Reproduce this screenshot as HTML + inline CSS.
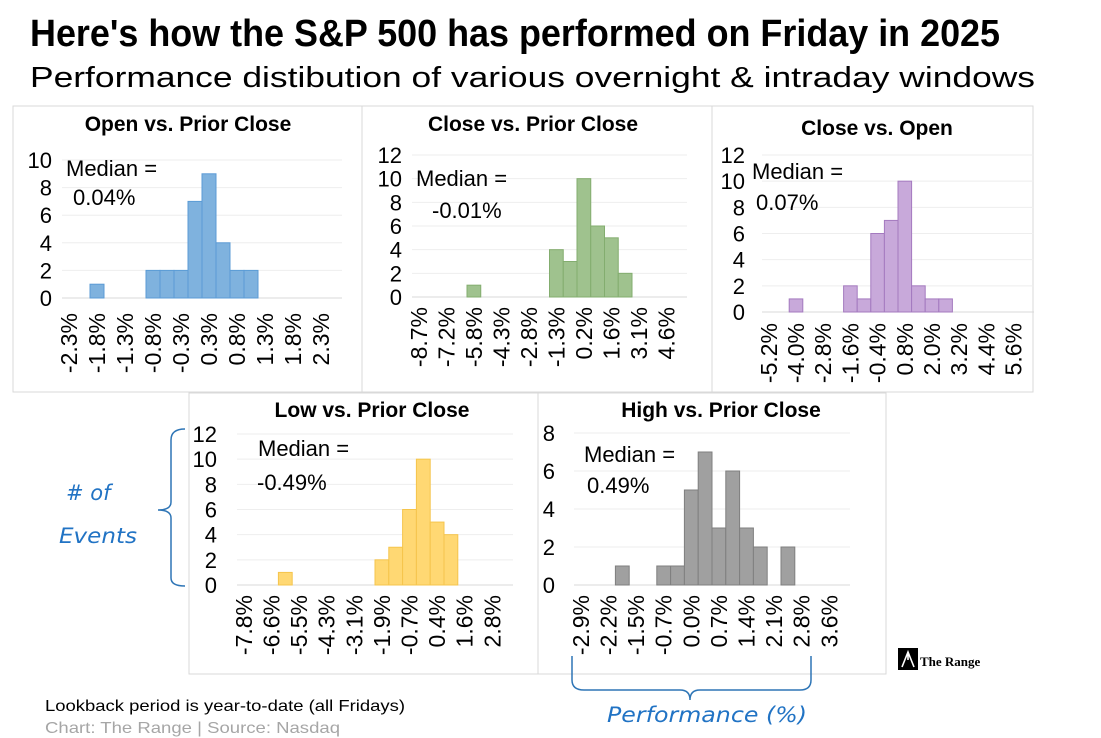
<!DOCTYPE html>
<html><head><meta charset="utf-8"><style>
body{margin:0;background:#fff;width:1101px;height:738px;overflow:hidden;font-family:"Liberation Sans",sans-serif}
svg{display:block}
</style></head><body>
<svg id="s" width="1101" height="738" viewBox="0 0 1101 738">
<text x="30" y="46" font-family="Liberation Sans Narrow, Liberation Sans, sans-serif" font-weight="bold" font-size="38" textLength="970" lengthAdjust="spacingAndGlyphs">Here's how the S&amp;P 500 has performed on Friday in 2025</text>
<text x="30" y="87" font-size="29" textLength="1005" lengthAdjust="spacingAndGlyphs">Performance distibution of various overnight &amp; intraday windows</text>
<g id="panels"></g>
<g>
<text x="66" y="500" fill="#2173c4" font-family="DejaVu Sans, sans-serif" font-style="italic" font-size="21"># of</text>
<text x="59" y="543" fill="#2173c4" font-family="DejaVu Sans, sans-serif" font-style="italic" font-size="21" textLength="78" lengthAdjust="spacingAndGlyphs">Events</text>
<path d="M185,429 Q171,429 171,440 L171,502 Q171,510 158,510 Q171,510 171,518 L171,578 Q171,586 185,586" fill="none" stroke="#2e75b6" stroke-width="1.5"/>
</g>
<g>
<path d="M572,656 L572,680 Q572,690 584,690 L680,690 Q690,690 690,700 Q690,690 700,690 L800,690 Q811,690 811,680 L811,656" fill="none" stroke="#2e75b6" stroke-width="1.5"/>
<text x="607" y="722" fill="#2173c4" font-family="DejaVu Sans, sans-serif" font-style="italic" font-size="21" textLength="200" lengthAdjust="spacingAndGlyphs">Performance (%)</text>
</g>
<g>
<rect x="898" y="648" width="20" height="22" fill="#000"/>
<path d="M902,667 L908,652 L914,667 M908,652 L908,660" stroke="#fff" stroke-width="1.6" fill="none"/>
<text x="920" y="666" font-family="Liberation Serif, serif" font-weight="bold" font-size="13">The Range</text>
</g>
<text x="45" y="711" font-size="16" textLength="360" lengthAdjust="spacingAndGlyphs">Lookback period is year-to-date (all Fridays)</text>
<text x="45" y="733" font-size="16" fill="#a6a6a6" textLength="295" lengthAdjust="spacingAndGlyphs">Chart: The Range | Source: Nasdaq</text>
</svg>
<script>
const openPriorCounts=[0,0,1,0,0,0,2,2,2,7,9,4,2,2,0,0,0,0,0,0];
const openPriorTicks=["-2.3%","-1.8%","-1.3%","-0.8%","-0.3%","0.3%","0.8%","1.3%","1.8%","2.3%"];
const closePriorCounts=[0,0,0,0,1,0,0,0,0,0,4,3,10,6,5,2,0,0,0,0];
const closePriorTicks=["-8.7%","-7.2%","-5.8%","-4.3%","-2.8%","-1.3%","0.2%","1.6%","3.1%","4.6%"];
const closeOpenCounts=[0,0,1,0,0,0,2,1,6,7,10,2,1,1,0,0,0,0,0,0];
const closeOpenTicks=["-5.2%","-4.0%","-2.8%","-1.6%","-0.4%","0.8%","2.0%","3.2%","4.4%","5.6%"];
const lowPriorCounts=[0,0,0,1,0,0,0,0,0,0,2,3,6,10,5,4,0,0,0,0];
const lowPriorTicks=["-7.8%","-6.6%","-5.5%","-4.3%","-3.1%","-1.9%","-0.7%","0.4%","1.6%","2.8%"];
const highPriorCounts=[0,0,0,1,0,0,1,1,5,7,3,6,3,2,0,2,0,0,0,0];
const highPriorTicks=["-2.9%","-2.2%","-1.5%","-0.7%","0.0%","0.7%","1.4%","2.1%","2.8%","3.6%"];
const yMaxes=[10,12,12,12,8];
const medians=["0.04%","-0.01%","0.07%","-0.49%","0.49%"];
const titles=["Open vs. Prior Close","Close vs. Prior Close","Close vs. Open","Low vs. Prior Close","High vs. Prior Close"];

const NS="http://www.w3.org/2000/svg";
const root=document.getElementById('panels');
function mk(tag,attrs,parent){const e=document.createElementNS(NS,tag);for(const k in attrs)e.setAttribute(k,attrs[k]);parent.appendChild(e);return e;}
const layouts=[
 {box:[13,106,349,286],x0:62,x1:342,base:298,top:160,yl:52,tc:188,ty:131,lt:313,m1:[66,176],m2:[73,205],fill:"#7fb2de",st:"#5b9bd5",key:"open-vs-prior-close"},
 {box:[362,106,350,286],x0:412,x1:687,base:297,top:155,yl:402,tc:533,ty:131,lt:307,m1:[416,186],m2:[432,218],fill:"#9fc28e",st:"#83ad6f",key:"close-vs-prior-close"},
 {box:[712,106,321,286],x0:762,x1:1034,base:312,top:155,yl:745,tc:877,ty:135,lt:323,m1:[752,179],m2:[756,210],fill:"#c8a9da",st:"#a47abf",key:"close-vs-open"},
 {box:[189,393,349,281],x0:237,x1:513,base:585,top:434,yl:217,tc:372,ty:417,lt:595,m1:[258,456],m2:[257,490],fill:"#ffd873",st:"#f5c54c",key:"low-vs-prior-close",narrow:true},
 {box:[538,393,348,281],x0:574,x1:850,base:585,top:433,yl:555,tc:721,ty:417,lt:595,m1:[584,462],m2:[587,493],fill:"#a0a0a0",st:"#7f7f7f",key:"high-vs-prior-close",narrow:true}
];
const countsAll=[openPriorCounts,closePriorCounts,closeOpenCounts,lowPriorCounts,highPriorCounts];
const ticksAll=[openPriorTicks,closePriorTicks,closeOpenTicks,lowPriorTicks,highPriorTicks];
layouts.forEach((L,i)=>{
 const counts=countsAll[i],ticks=ticksAll[i],ymax=yMaxes[i];
 const g=mk('g',{},root);
 
 
 const fam='Liberation Sans, sans-serif';
 const r=mk('rect',{x:L.box[0],y:L.box[1],width:L.box[2],height:L.box[3],fill:'none',stroke:'#d9d9d9'},g);
 
 
 const bw=(L.x1-L.x0)/counts.length;
 const xs=k=>L.x0+k*bw;
 const ys=v=>L.base-(v/ymax)*(L.base-L.top);
 for(let v=0;v<=ymax;v+=2){
  const ln=mk('line',{x1:L.x0,x2:L.x1,y1:ys(v),y2:ys(v),stroke:v===0?'#d9d9d9':'#eeeeee'},g);
  
  
  const t=mk('text',{x:L.yl,y:ys(v)+8,'text-anchor':'end','font-size':22,'font-family':fam},g);
  t.textContent=v;
  
  
 }
 counts.forEach((c,k)=>{
  if(c<=0)return;
  const b=mk('rect',{x:xs(k),y:ys(c),width:bw,height:ys(0)-ys(c),fill:L.fill,stroke:L.st,'stroke-width':1},g);
  
  
 });
 ticks.forEach((lab,j)=>{
  const cx=xs(j*2)+bw/2+8;
  const t=mk('text',{x:0,y:0,'text-anchor':'end','font-size':23,'font-family':fam,transform:`translate(${cx},${L.lt}) rotate(-90)`},g);
  t.textContent=lab;
  
  
 });
 const tt=mk('text',{x:L.tc,y:L.ty,'text-anchor':'middle','font-size':21,'font-weight':'bold','font-family':fam},g);
 tt.textContent=titles[i];
 
 
 const m1=mk('text',{x:L.m1[0],y:L.m1[1],'font-size':22,'font-family':fam},g);
 m1.textContent='Median =';
 
 
 const m2=mk('text',{x:L.m2[0],y:L.m2[1],'font-size':22,'font-family':fam},g);
 m2.textContent=medians[i];
 
 
});
</script>
</body></html>
